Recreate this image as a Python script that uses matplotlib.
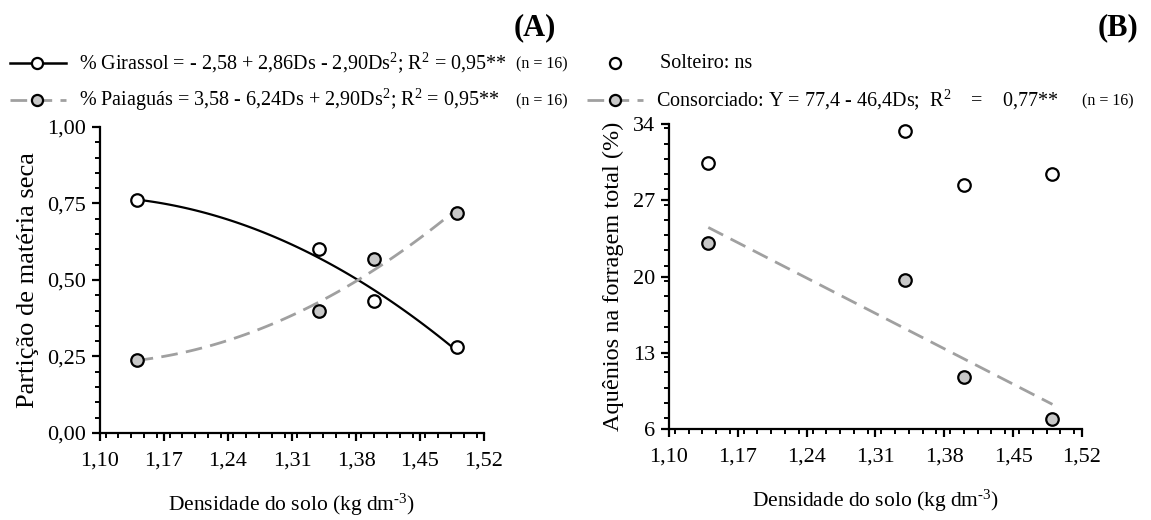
import matplotlib
matplotlib.use("Agg")
import matplotlib.pyplot as plt
import numpy as np
from matplotlib.lines import Line2D
from matplotlib.ticker import MultipleLocator

plt.rcParams['font.family'] = ['Liberation Serif', 'DejaVu Serif']
plt.rcParams['mathtext.fontset'] = 'custom'
plt.rcParams['mathtext.rm'] = 'Liberation Serif'
plt.rcParams['mathtext.it'] = 'Liberation Serif:italic'
plt.rcParams['mathtext.bf'] = 'Liberation Serif:bold'

# densidade do solo (kg dm-3)
ds = [1.14, 1.34, 1.40, 1.49]

# (A) particao de materia seca
girassol = [0.76, 0.60, 0.43, 0.28]
paiaguas = [0.24, 0.40, 0.57, 0.72]

# (B) aquenios na forragem total (%)
solteiro = [30.4, 33.4, 28.4, 29.4]
consorciado = [23.1, 19.7, 10.8, 6.9]
consorc_coef = [77.4, -46.4]  # Y = a + b*Ds

x_ticks = [1.10, 1.17, 1.24, 1.31, 1.38, 1.45, 1.52]
x_labels = ['1,10', '1,17', '1,24', '1,31', '1,38', '1,45', '1,52']
ya_ticks = [0.0, 0.25, 0.50, 0.75, 1.0]
ya_labels = ['0,00', '0,25', '0,50', '0,75', '1,00']
yb_ticks = [6, 13, 20, 27, 34]
yb_labels = ['6', '13', '20', '27', '34']

gray_line = '#a0a0a0'
gray_fill = '#c8c8c8'
fs_tick = 16
fs_lab = 15.5
fs_leg = 14.5
fs_n = 11.5

fig = plt.figure(figsize=(11.51, 5.20), dpi=100)
axA = fig.add_axes([0.0869, 0.1673, 0.3336, 0.5885])
axB = fig.add_axes([0.5812, 0.175, 0.3588, 0.5865])


def style(ax, yticks, ylabels, yminor):
    for s in ['top', 'right']:
        ax.spines[s].set_visible(False)
    for s in ['left', 'bottom']:
        ax.spines[s].set_linewidth(1.6)
    ax.set_xlim(1.10, 1.52)
    ax.set_xticks(x_ticks)
    ax.set_xticklabels(x_labels)
    ax.set_ylim(yticks[0], yticks[-1])
    ax.set_yticks(yticks)
    ax.set_yticklabels(ylabels)
    ax.xaxis.set_minor_locator(MultipleLocator(0.014))
    ax.yaxis.set_minor_locator(MultipleLocator(yminor))
    ax.tick_params(which='major', direction='out', length=6, width=1.6,
                   labelsize=fs_tick, pad=7)
    ax.tick_params(axis='y', which='major', pad=4)
    ax.tick_params(which='minor', direction='out', length=3.5, width=1.4)
    ax.set_xlabel('Densidade do solo (kg dm$^{\\text{-3}}$)', fontsize=fs_lab,
                  labelpad=16)


# ---- panel A ----
xs = np.linspace(min(ds), max(ds), 100)
pg = np.polyfit(ds, girassol, 2)
pp = np.polyfit(ds, paiaguas, 2)
axA.plot(xs, np.polyval(pg, xs), color='black', lw=1.6, zorder=2)
axA.plot(xs, np.polyval(pp, xs), color=gray_line, lw=2, dashes=(6, 3), zorder=2)
axA.plot(ds, girassol, 'o', ms=9, mfc='white', mec='black', mew=1.6,
         clip_on=False, zorder=3)
axA.plot(ds, paiaguas, 'o', ms=9, mfc=gray_fill, mec='black', mew=1.6,
         clip_on=False, zorder=3)
style(axA, ya_ticks, ya_labels, 0.05)
axA.set_ylabel('Partição de matéria seca', fontsize=19, labelpad=6)

# ---- panel B ----
xl = np.array([min(ds), max(ds)])
axB.plot(xl, consorc_coef[0] + consorc_coef[1] * xl, color=gray_line, lw=2,
         dashes=(6, 3), zorder=2)
axB.plot(ds, solteiro, 'o', ms=9, mfc='white', mec='black', mew=1.6,
         clip_on=False, zorder=3)
axB.plot(ds, consorciado, 'o', ms=9, mfc=gray_fill, mec='black', mew=1.6,
         clip_on=False, zorder=3)
style(axB, yb_ticks, yb_labels, 1.4)
axB.set_ylabel('Aquênios na forragem total (%)', fontsize=17.5, labelpad=6)

# ---- legends (drawn by hand) ----
W, H = 1151.0, 520.0


def handle(x0, x1, xc, yc, color, fill, dashed, line=True):
    if line:
        fig.add_artist(Line2D([x0 / W, x1 / W], [1 - yc / H, 1 - yc / H],
                              color=color, lw=2 if dashed else 1.8,
                              dashes=(6, 3) if dashed else (None, None),
                              transform=fig.transFigure))
    fig.add_artist(Line2D([xc / W], [1 - yc / H], marker='o', ms=8,
                          mfc=fill, mec='black', mew=1.6,
                          transform=fig.transFigure))


handle(10, 66, 37, 63, 'black', 'white', False)
fig.text(79 / W, 1 - 63 / H,
         '% Girassol = - 2,58 + 2,86Ds - 2,90Ds$^{2}$; R$^{2}$ = 0,95**',
         fontsize=fs_leg, va='center', ha='left')
fig.text(568 / W, 1 - 64 / H, '(n = 16)', fontsize=fs_n, va='center', ha='right')
handle(10, 66, 37, 100, gray_line, gray_fill, True)
fig.text(79 / W, 1 - 100 / H,
         '% Paiaguás = 3,58 - 6,24Ds + 2,90Ds$^{2}$; R$^{2}$ = 0,95**',
         fontsize=fs_leg, va='center', ha='left')
fig.text(568 / W, 1 - 101 / H, '(n = 16)', fontsize=fs_n, va='center', ha='right')

handle(0, 0, 615, 63, 'black', 'white', False, line=False)
fig.text(660 / W, 1 - 63 / H, 'Solteiro: ns', fontsize=fs_leg, va='center', ha='left')
handle(587, 643, 615, 100, gray_line, gray_fill, True)
fig.text(656 / W, 1 - 100 / H,
         'Consorciado: Y = 77,4 - 46,4Ds;  R$^{2}$    =    0,77**',
         fontsize=fs_leg, va='center', ha='left')
fig.text(1134 / W, 1 - 101 / H, '(n = 16)', fontsize=fs_n, va='center', ha='right')

fig.text(556 / W, 1 - 28 / H, '(A)', fontsize=22, fontweight='bold',
         va='center', ha='right')
fig.text(1138 / W, 1 - 28 / H, '(B)', fontsize=22, fontweight='bold',
         va='center', ha='right')

fig.savefig('out.png', dpi=100)
